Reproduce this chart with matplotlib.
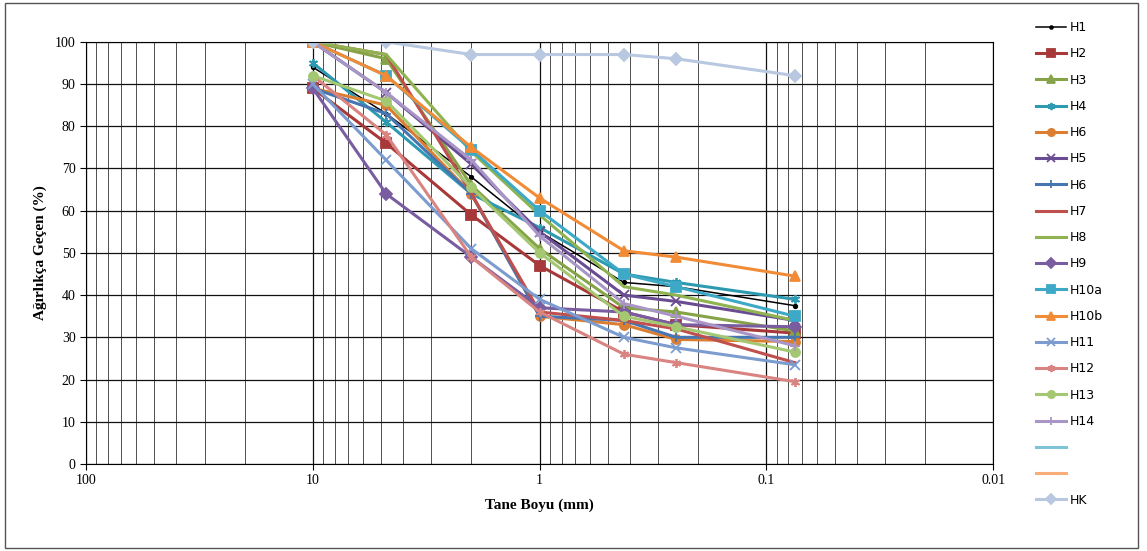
import matplotlib
matplotlib.use("Agg")
import matplotlib.pyplot as plt
from matplotlib.ticker import FixedLocator, FuncFormatter, LogLocator
from matplotlib.patches import Rectangle

# elek açıklıkları (mm)
sieves = [10, 4.75, 2, 1, 0.425, 0.25, 0.075]

names = ["H1", "H2", "H3", "H4", "H6", "H5", "H6", "H7", "H8", "H9",
         "H10a", "H10b", "H11", "H12", "H13", "H14", " ", "  ", "HK"]

h1 = [94, 83, 68, 55, 43, 42, 37.5]
h2 = [89, 76, 59, 47, 36, 33, 31]
h3 = [100, 96, 66, 51, 37, 36, 31.5]
h4 = [95, 81, 64, 56, 45, 43, 39]
h6a = [89, 85, 64, 35, 33, 29.5, 29]
h5 = [100, 88, 71, 55, 40, 38.5, 34]
h6b = [89, 83, 64, 35, 34, 30, 30]
h7 = [100, 97, 64, 36, 34, 32, 24]
h8 = [100, 97, 74, 59, 42, 40, 34]
h9 = [89, 64, 49, 37, 36, 33, 32.5]
h10a = [100, 92, 74.5, 60, 45, 42, 35]
h10b = [100, 92, 75, 63, 50.5, 49, 44.5]
h11 = [90, 72, 51, 39, 30, 27.5, 23.5]
h12 = [92, 78, 49, 36, 26, 24, 19.5]
h13 = [92, 86, 65.5, 50, 35, 32.5, 26.5]
h14 = [100, 88, 72, 54, 38, 35, 28]
bos1 = []
bos2 = []
hk = [100, 100, 97, 97, 97, 96, 92]

series = [h1, h2, h3, h4, h6a, h5, h6b, h7, h8, h9, h10a, h10b,
          h11, h12, h13, h14, bos1, bos2, hk]

colors = ["#000000", "#A8393A", "#86A447", "#2E9AB2", "#DB7E31", "#6A4C92",
          "#4676B2", "#C0504D", "#8FB350", "#7A5CA0", "#3DA9C6", "#F28B35",
          "#7C9CCF", "#D98480", "#A4C872", "#A896C6", "#7EC4D6", "#F9AE7A",
          "#B8C8E0"]
star = (6, 2, 0)
markers = [".", "s", "^", star, "o", "x", "+", None, None, "D",
           "s", "^", "x", star, "o", "+", None, "_", "D"]

fig = plt.figure(figsize=(11.47, 5.51), dpi=100)
ax = fig.add_axes([0.075, 0.158, 0.791, 0.766])

for vals, name, c, m in zip(series, names, colors, markers):
    xs = sieves[:len(vals)]
    lw = 1.1 if name == "H1" else 2.2
    ms = 5 if name == "H1" else 6.5
    ax.plot(xs, vals, color=c, lw=lw, marker=m, ms=ms, mew=1.3,
            label=name)

ax.set_xscale("log")
ax.set_xlim(100, 0.01)
ax.set_ylim(0, 100)
ax.yaxis.set_major_locator(FixedLocator(range(0, 101, 10)))
ax.xaxis.set_major_locator(FixedLocator([100, 10, 1, 0.1, 0.01]))
ax.xaxis.set_major_formatter(FuncFormatter(lambda v, p: "%g" % v))
ax.xaxis.set_minor_locator(LogLocator(base=10, subs=range(2, 10)))
ax.grid(True, which="major", color="#111111", lw=0.9)
ax.grid(True, which="minor", axis="x", color="#333333", lw=0.6)
ax.set_axisbelow(True)
for s in ax.spines.values():
    s.set_color("#000000")

for lab in ax.get_xticklabels() + ax.get_yticklabels():
    lab.set_fontfamily("Liberation Serif")
    lab.set_fontsize(10)
ax.tick_params(which="minor", length=0)
ax.tick_params(which="major", length=4)

ax.set_xlabel("Tane Boyu (mm)", fontfamily="Liberation Serif",
              fontweight="bold", fontsize=11, labelpad=8)
ax.set_ylabel("Ağırlıkça Geçen (%)", fontfamily="Liberation Serif",
              fontweight="bold", fontsize=11, labelpad=6)

leg = fig.legend(loc="upper left", bbox_to_anchor=(0.893, 0.982),
                 frameon=False, fontsize=9, labelspacing=1.06,
                 handlelength=2.4, handletextpad=0.3, markerscale=0.8)

fig.patches.append(Rectangle((0.004, 0.005), 0.988, 0.99,
                             transform=fig.transFigure, fill=False,
                             edgecolor="#555555", lw=1))

fig.savefig("out.png", dpi=100)
